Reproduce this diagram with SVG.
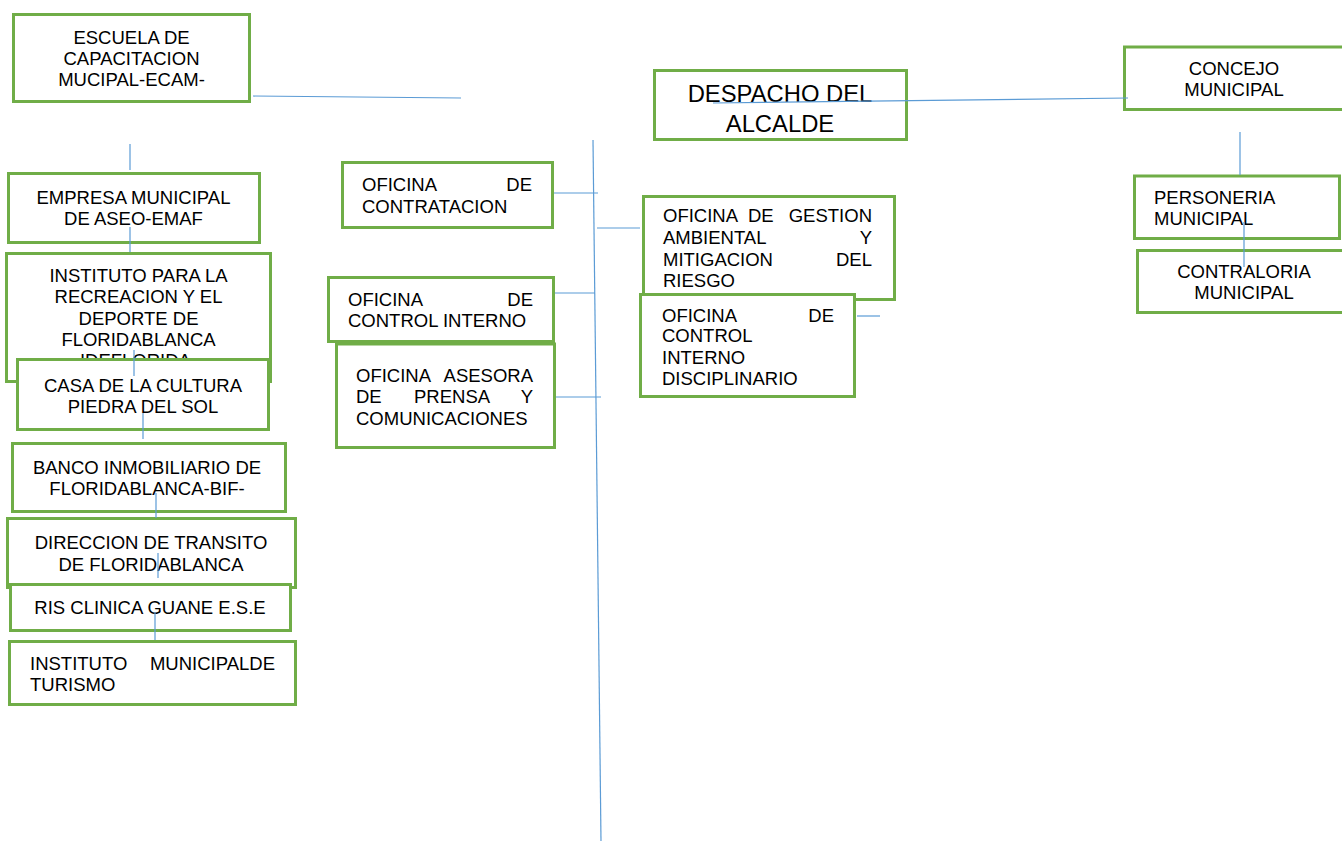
<svg xmlns="http://www.w3.org/2000/svg" width="1342" height="841" viewBox="0 0 1342 841">
<style>
.box{fill:#fff;stroke:#70AD47;stroke-width:3}
.t{font-family:"Liberation Sans",Arial,sans-serif;font-size:18.5px;fill:#000}
.c{text-anchor:middle}
.big{font-size:23.8px}
.ln{stroke:#5B9BD5;stroke-width:1.2;fill:none}
</style>
<rect width="1342" height="841" fill="#fff"/>
<g id="escuela"><rect class="box" x="13.5" y="14.5" width="236" height="87"/>
<text class="t c"><tspan x="131.5" y="44">ESCUELA DE</tspan><tspan x="131.5" y="65">CAPACITACION</tspan><tspan x="131.5" y="86">MUCIPAL-ECAM-</tspan></text></g>
<g id="empresa"><rect class="box" x="8.5" y="173.5" width="251" height="69"/>
<text class="t c"><tspan x="133.5" y="204">EMPRESA MUNICIPAL</tspan><tspan x="133.5" y="225">DE ASEO-EMAF</tspan></text></g>
<g id="instituto-recreacion"><rect class="box" x="6.5" y="253.5" width="264" height="128"/>
<text class="t c"><tspan x="138.5" y="282">INSTITUTO PARA LA</tspan><tspan x="138.5" y="303">RECREACION Y EL</tspan><tspan x="138.5" y="325">DEPORTE DE</tspan><tspan x="138.5" y="346">FLORIDABLANCA</tspan><tspan x="138.5" y="367">IDEFLORIDA-</tspan></text></g>
<g id="casa-cultura"><rect class="box" x="17.5" y="359.5" width="251" height="70"/>
<text class="t c"><tspan x="143" y="392">CASA DE LA CULTURA</tspan><tspan x="143" y="413">PIEDRA DEL SOL</tspan></text></g>
<g id="banco"><rect class="box" x="12.5" y="443.5" width="273" height="68"/>
<text class="t c"><tspan x="147" y="474">BANCO INMOBILIARIO DE</tspan><tspan x="147" y="495">FLORIDABLANCA-BIF-</tspan></text></g>
<g id="direccion-transito"><rect class="box" x="7.5" y="518.5" width="288" height="69"/>
<text class="t c"><tspan x="151" y="549">DIRECCION DE TRANSITO</tspan><tspan x="151" y="571">DE FLORIDABLANCA</tspan></text></g>
<g id="ris-clinica"><rect class="box" x="10.5" y="584.5" width="280" height="46"/>
<text class="t c"><tspan x="150" y="614">RIS CLINICA GUANE E.S.E</tspan></text></g>
<g id="instituto-turismo"><rect class="box" x="9.5" y="641.5" width="286" height="63"/>
<text class="t"><tspan x="30" y="670">INSTITUTO</tspan><tspan x="275" y="670" text-anchor="end">MUNICIPALDE</tspan><tspan x="30" y="691">TURISMO</tspan></text></g>
<g id="contratacion"><rect class="box" x="342.5" y="162.5" width="210" height="65"/>
<text class="t"><tspan x="362" y="191">OFICINA</tspan><tspan x="532" y="191" text-anchor="end">DE</tspan><tspan x="362" y="213">CONTRATACION</tspan></text></g>
<g id="control-interno"><rect class="box" x="328.5" y="277.5" width="225" height="64"/>
<text class="t"><tspan x="348" y="306">OFICINA</tspan><tspan x="533" y="306" text-anchor="end">DE</tspan><tspan x="348" y="327">CONTROL INTERNO</tspan></text></g>
<g id="prensa"><rect class="box" x="336.5" y="344" width="218" height="103.5"/>
<text class="t"><tspan x="356" y="382">OFICINA</tspan><tspan x="533" y="382" text-anchor="end">ASESORA</tspan><tspan x="356" y="403">DE</tspan><tspan x="414" y="403">PRENSA</tspan><tspan x="533" y="403" text-anchor="end">Y</tspan><tspan x="356" y="425">COMUNICACIONES</tspan></text></g>
<g id="despacho"><rect class="box" x="654.5" y="70.5" width="252" height="69"/>
<text class="t c big"><tspan x="780" y="102">DESPACHO DEL</tspan><tspan x="780" y="132">ALCALDE</tspan></text></g>
<g id="gestion-ambiental"><rect class="box" x="643.5" y="196.5" width="251" height="103"/>
<text class="t"><tspan x="663" y="222">OFICINA</tspan><tspan x="748" y="222">DE</tspan><tspan x="872" y="222" text-anchor="end">GESTION</tspan><tspan x="663" y="244">AMBIENTAL</tspan><tspan x="872" y="244" text-anchor="end">Y</tspan><tspan x="663" y="266">MITIGACION</tspan><tspan x="872" y="266" text-anchor="end">DEL</tspan><tspan x="663" y="287">RIESGO</tspan></text></g>
<g id="control-disciplinario"><rect class="box" x="640.5" y="294.5" width="214" height="102"/>
<text class="t"><tspan x="662" y="322">OFICINA</tspan><tspan x="834" y="322" text-anchor="end">DE</tspan><tspan x="662" y="342">CONTROL</tspan><tspan x="662" y="364">INTERNO</tspan><tspan x="662" y="385">DISCIPLINARIO</tspan></text></g>
<g id="concejo"><rect class="box" x="1124.5" y="47" width="230" height="62.5"/>
<text class="t c"><tspan x="1234" y="75">CONCEJO</tspan><tspan x="1234" y="96">MUNICIPAL</tspan></text></g>
<g id="personeria"><rect class="box" x="1134.5" y="176" width="205" height="62.5"/>
<text class="t"><tspan x="1154" y="204">PERSONERIA</tspan><tspan x="1154" y="225">MUNICIPAL</tspan></text></g>
<g id="contraloria"><rect class="box" x="1137.5" y="250.5" width="220" height="62"/>
<text class="t c"><tspan x="1244" y="278">CONTRALORIA</tspan><tspan x="1244" y="299">MUNICIPAL</tspan></text></g>
<g id="connectors">
<line class="ln" x1="253" y1="96" x2="461" y2="98"/>
<line class="ln" x1="130" y1="144" x2="130" y2="170"/>
<line class="ln" x1="130" y1="227" x2="130" y2="252"/>
<line class="ln" x1="134" y1="350" x2="134" y2="376"/>
<line class="ln" x1="143" y1="413" x2="143" y2="439"/>
<line class="ln" x1="156" y1="493" x2="156" y2="518"/>
<line class="ln" x1="158" y1="553" x2="158" y2="578"/>
<line class="ln" x1="155" y1="612" x2="155" y2="640"/>
<line class="ln" x1="593" y1="140" x2="601" y2="841"/>
<line class="ln" x1="554" y1="193" x2="598" y2="193"/>
<line class="ln" x1="597" y1="228" x2="640" y2="228"/>
<line class="ln" x1="555" y1="293" x2="595" y2="293"/>
<line class="ln" x1="556" y1="397" x2="601" y2="397"/>
<line class="ln" x1="857" y1="316" x2="880" y2="316"/>
<line class="ln" x1="713" y1="103" x2="1128" y2="98"/>
<line class="ln" x1="1240" y1="132" x2="1240" y2="175"/>
<line class="ln" x1="1244" y1="222" x2="1244" y2="267"/>
</g>
</svg>
